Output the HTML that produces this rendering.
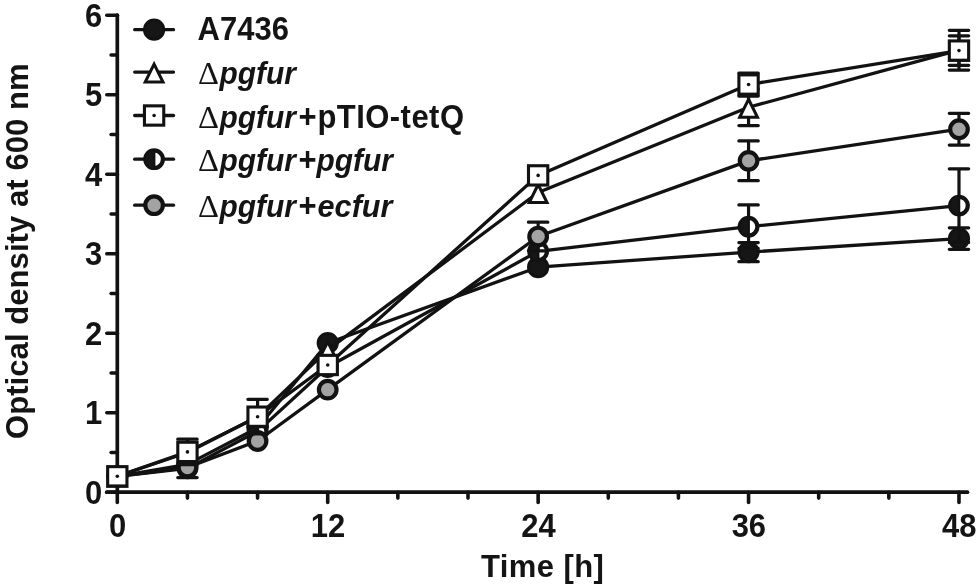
<!DOCTYPE html>
<html lang="en"><head><meta charset="utf-8"><title>Growth curves</title>
<style>html,body{margin:0;padding:0;background:#fff}svg{display:block}</style></head>
<body>
<svg width="980" height="588" viewBox="0 0 980 588">
<rect width="980" height="588" fill="#fff"/>
<g stroke="#121212" stroke-width="3.7" stroke-linecap="round" fill="none">
<path d="M117.3 15.2 V492.2"/>
<path d="M106.8 492.2 H967.5"/>
</g>
<g stroke="#121212" stroke-width="3.6" stroke-linecap="round" fill="none">
<path d="M106.8 492.2 H117.3"/>
<path d="M111.1 452.45 H117.3"/>
<path d="M106.8 412.7 H117.3"/>
<path d="M111.1 372.95 H117.3"/>
<path d="M106.8 333.2 H117.3"/>
<path d="M111.1 293.45 H117.3"/>
<path d="M106.8 253.7 H117.3"/>
<path d="M111.1 213.95 H117.3"/>
<path d="M106.8 174.2 H117.3"/>
<path d="M111.1 134.45 H117.3"/>
<path d="M106.8 94.7 H117.3"/>
<path d="M111.1 54.95 H117.3"/>
<path d="M106.8 15.2 H117.3"/>
<path d="M117.3 492.2 V502.5"/>
<path d="M187.44 492.2 V498.1"/>
<path d="M257.58 492.2 V498.1"/>
<path d="M327.72 492.2 V502.5"/>
<path d="M397.86 492.2 V498.1"/>
<path d="M468 492.2 V498.1"/>
<path d="M538.14 492.2 V502.5"/>
<path d="M608.28 492.2 V498.1"/>
<path d="M678.42 492.2 V498.1"/>
<path d="M748.56 492.2 V502.5"/>
<path d="M818.7 492.2 V498.1"/>
<path d="M888.84 492.2 V498.1"/>
<path d="M958.98 492.2 V502.5"/>
</g>
<g font-family="'Liberation Sans', Arial, sans-serif" font-weight="bold" font-size="31" fill="#141414">
<text transform="translate(102.3 503.8) scale(1 1.045)" text-anchor="end">0</text>
<text transform="translate(102.3 424.3) scale(1 1.045)" text-anchor="end">1</text>
<text transform="translate(102.3 344.8) scale(1 1.045)" text-anchor="end">2</text>
<text transform="translate(102.3 265.3) scale(1 1.045)" text-anchor="end">3</text>
<text transform="translate(102.3 185.8) scale(1 1.045)" text-anchor="end">4</text>
<text transform="translate(102.3 106.3) scale(1 1.045)" text-anchor="end">5</text>
<text transform="translate(102.3 26.8) scale(1 1.045)" text-anchor="end">6</text>
<text transform="translate(117.6 536.6) scale(1 1.045)" text-anchor="middle">0</text>
<text transform="translate(328.02 536.6) scale(1 1.045)" text-anchor="middle">12</text>
<text transform="translate(538.44 536.6) scale(1 1.045)" text-anchor="middle">24</text>
<text transform="translate(748.86 536.6) scale(1 1.045)" text-anchor="middle">36</text>
<text transform="translate(959.28 536.6) scale(1 1.045)" text-anchor="middle">48</text>
<text x="542.4" y="576.5" text-anchor="middle" textLength="123" lengthAdjust="spacing">Time [h]</text>
<text transform="translate(27.5 251.2) rotate(-90)" text-anchor="middle" textLength="375.7" lengthAdjust="spacing">Optical density at 600 nm</text>
</g>
<g id="s-black">
<path d="M117.3 476.3 L187.44 464.38 L257.58 427.8 L327.72 342.98 L538.14 267.21 L748.56 252.11 L958.98 238.59" fill="none" stroke="#121212" stroke-width="3.3" stroke-linejoin="round"/>
<path d="M748.56 242.57 V261.65 M738.86 242.57 H758.26 M738.86 261.65 H758.26" fill="none" stroke="#121212" stroke-width="3.2" stroke-linecap="round"/>
<path d="M958.98 227.86 V249.33 M949.28 227.86 H968.68 M949.28 249.33 H968.68" fill="none" stroke="#121212" stroke-width="3.2" stroke-linecap="round"/>
<circle cx="117.3" cy="476.3" r="9.6" fill="#161616" stroke="#121212" stroke-width="3"/>
<circle cx="187.44" cy="464.38" r="9.6" fill="#161616" stroke="#121212" stroke-width="3"/>
<circle cx="257.58" cy="427.8" r="9.6" fill="#161616" stroke="#121212" stroke-width="3"/>
<circle cx="327.72" cy="342.98" r="9.6" fill="#161616" stroke="#121212" stroke-width="3"/>
<circle cx="538.14" cy="267.21" r="9.6" fill="#161616" stroke="#121212" stroke-width="3"/>
<circle cx="748.56" cy="252.11" r="9.6" fill="#161616" stroke="#121212" stroke-width="3"/>
<circle cx="958.98" cy="238.59" r="9.6" fill="#161616" stroke="#121212" stroke-width="3"/>
</g>
<g id="s-half">
<path d="M117.3 476.3 L187.44 468.35 L257.58 431.38 L327.72 366.99 L538.14 251.31 L748.56 226.67 L958.98 205.6" fill="none" stroke="#121212" stroke-width="3.3" stroke-linejoin="round"/>
<path d="M748.56 204.89 V248.45 M738.86 204.89 H758.26 M738.86 248.45 H758.26" fill="none" stroke="#121212" stroke-width="3.2" stroke-linecap="round"/>
<path d="M958.98 168.79 V242.41 M949.28 168.79 H968.68 M949.28 242.41 H968.68" fill="none" stroke="#121212" stroke-width="3.2" stroke-linecap="round"/>
<g transform="translate(117.3 476.3)"><circle r="8.8" fill="#fff" stroke="#121212" stroke-width="4.2"/><path d="M0.9 -9 A9 9 0 0 0 0.9 9 Z" fill="#161616"/><path d="M0.2 -9 V9" stroke="#121212" stroke-width="2.2"/></g>
<g transform="translate(187.44 468.35)"><circle r="8.8" fill="#fff" stroke="#121212" stroke-width="4.2"/><path d="M0.9 -9 A9 9 0 0 0 0.9 9 Z" fill="#161616"/><path d="M0.2 -9 V9" stroke="#121212" stroke-width="2.2"/></g>
<g transform="translate(257.58 431.38)"><circle r="8.8" fill="#fff" stroke="#121212" stroke-width="4.2"/><path d="M0.9 -9 A9 9 0 0 0 0.9 9 Z" fill="#161616"/><path d="M0.2 -9 V9" stroke="#121212" stroke-width="2.2"/></g>
<g transform="translate(327.72 366.99)"><circle r="8.8" fill="#fff" stroke="#121212" stroke-width="4.2"/><path d="M0.9 -9 A9 9 0 0 0 0.9 9 Z" fill="#161616"/><path d="M0.2 -9 V9" stroke="#121212" stroke-width="2.2"/></g>
<g transform="translate(538.14 251.31)"><circle r="8.8" fill="#fff" stroke="#121212" stroke-width="4.2"/><path d="M0.9 -9 A9 9 0 0 0 0.9 9 Z" fill="#161616"/><path d="M0.2 -9 V9" stroke="#121212" stroke-width="2.2"/></g>
<g transform="translate(748.56 226.67)"><circle r="8.8" fill="#fff" stroke="#121212" stroke-width="4.2"/><path d="M0.9 -9 A9 9 0 0 0 0.9 9 Z" fill="#161616"/><path d="M0.2 -9 V9" stroke="#121212" stroke-width="2.2"/></g>
<g transform="translate(958.98 205.6)"><circle r="8.8" fill="#fff" stroke="#121212" stroke-width="4.2"/><path d="M0.9 -9 A9 9 0 0 0 0.9 9 Z" fill="#161616"/><path d="M0.2 -9 V9" stroke="#121212" stroke-width="2.2"/></g>
</g>
<g id="s-grey">
<path d="M117.3 476.3 L187.44 467.56 L257.58 441 L327.72 389.64 L538.14 236.53 L748.56 160.84 L958.98 129.2" fill="none" stroke="#121212" stroke-width="3.3" stroke-linejoin="round"/>
<path d="M187.44 457.54 V477.57 M177.74 457.54 H197.14 M177.74 477.57 H197.14" fill="none" stroke="#121212" stroke-width="3.2" stroke-linecap="round"/>
<path d="M538.14 222.22 V250.84 M528.44 222.22 H547.84 M528.44 250.84 H547.84" fill="none" stroke="#121212" stroke-width="3.2" stroke-linecap="round"/>
<path d="M748.56 140.97 V180.72 M738.86 140.97 H758.26 M738.86 180.72 H758.26" fill="none" stroke="#121212" stroke-width="3.2" stroke-linecap="round"/>
<path d="M958.98 113.3 V145.1 M949.28 113.3 H968.68 M949.28 145.1 H968.68" fill="none" stroke="#121212" stroke-width="3.2" stroke-linecap="round"/>
<circle cx="117.3" cy="476.3" r="8.8" fill="#a3a3a3" stroke="#121212" stroke-width="4.2"/>
<circle cx="187.44" cy="467.56" r="8.8" fill="#a3a3a3" stroke="#121212" stroke-width="4.2"/>
<circle cx="257.58" cy="441" r="8.8" fill="#a3a3a3" stroke="#121212" stroke-width="4.2"/>
<circle cx="327.72" cy="389.64" r="8.8" fill="#a3a3a3" stroke="#121212" stroke-width="4.2"/>
<circle cx="538.14" cy="236.53" r="8.8" fill="#a3a3a3" stroke="#121212" stroke-width="4.2"/>
<circle cx="748.56" cy="160.84" r="8.8" fill="#a3a3a3" stroke="#121212" stroke-width="4.2"/>
<circle cx="958.98" cy="129.2" r="8.8" fill="#a3a3a3" stroke="#121212" stroke-width="4.2"/>
</g>
<g id="s-tri">
<path d="M117.3 476.3 L187.44 452.45 L257.58 416.83 L327.72 349.89 L538.14 192.49 L748.56 107.26 L958.98 50.18" fill="none" stroke="#121212" stroke-width="3.3" stroke-linejoin="round"/>
<path d="M748.56 88.98 V125.55 M738.86 88.98 H758.26 M738.86 125.55 H758.26" fill="none" stroke="#121212" stroke-width="3.2" stroke-linecap="round"/>
<path d="M958.98 30.31 V70.06 M949.28 30.31 H968.68 M949.28 70.06 H968.68" fill="none" stroke="#121212" stroke-width="3.2" stroke-linecap="round"/>
<g transform="translate(117.3 476.3)"><path d="M0 -8 L8.9 10 L-8.9 10 Z" fill="#fff" stroke="#121212" stroke-width="3" stroke-linejoin="miter" stroke-miterlimit="10"/></g>
<g transform="translate(187.44 452.45)"><path d="M0 -8 L8.9 10 L-8.9 10 Z" fill="#fff" stroke="#121212" stroke-width="3" stroke-linejoin="miter" stroke-miterlimit="10"/></g>
<g transform="translate(257.58 416.83)"><path d="M0 -8 L8.9 10 L-8.9 10 Z" fill="#fff" stroke="#121212" stroke-width="3" stroke-linejoin="miter" stroke-miterlimit="10"/></g>
<g transform="translate(327.72 349.89)"><path d="M0 -8 L8.9 10 L-8.9 10 Z" fill="#fff" stroke="#121212" stroke-width="3" stroke-linejoin="miter" stroke-miterlimit="10"/></g>
<g transform="translate(538.14 192.49)"><path d="M0 -8 L8.9 10 L-8.9 10 Z" fill="#fff" stroke="#121212" stroke-width="3" stroke-linejoin="miter" stroke-miterlimit="10"/></g>
<g transform="translate(748.56 107.26)"><path d="M0 -8 L8.9 10 L-8.9 10 Z" fill="#fff" stroke="#121212" stroke-width="3" stroke-linejoin="miter" stroke-miterlimit="10"/></g>
<g transform="translate(958.98 50.18)"><path d="M0 -8 L8.9 10 L-8.9 10 Z" fill="#fff" stroke="#121212" stroke-width="3" stroke-linejoin="miter" stroke-miterlimit="10"/></g>
</g>
<g id="s-sq">
<path d="M117.3 476.3 L187.44 451.89 L257.58 416.68 L327.72 365 L538.14 175.39 L748.56 84.52 L958.98 50.58" fill="none" stroke="#121212" stroke-width="3.3" stroke-linejoin="round"/>
<path d="M187.44 439.17 V464.61 M177.74 439.17 H197.14 M177.74 464.61 H197.14" fill="none" stroke="#121212" stroke-width="3.2" stroke-linecap="round"/>
<path d="M257.58 399.34 V434.01 M247.88 399.34 H267.28 M247.88 434.01 H267.28" fill="none" stroke="#121212" stroke-width="3.2" stroke-linecap="round"/>
<path d="M748.56 73 V96.05 M738.86 73 H758.26 M738.86 96.05 H758.26" fill="none" stroke="#121212" stroke-width="3.2" stroke-linecap="round"/>
<path d="M958.98 35.87 V65.28 M949.28 35.87 H968.68 M949.28 65.28 H968.68" fill="none" stroke="#121212" stroke-width="3.2" stroke-linecap="round"/>
<g transform="translate(117.3 476.3)"><rect x="-9.65" y="-9.65" width="19.3" height="19.3" fill="#fff" stroke="#121212" stroke-width="3.1"/><circle r="1.8" fill="#121212"/></g>
<g transform="translate(187.44 451.89)"><rect x="-9.65" y="-9.65" width="19.3" height="19.3" fill="#fff" stroke="#121212" stroke-width="3.1"/><circle r="1.8" fill="#121212"/></g>
<g transform="translate(257.58 416.68)"><rect x="-9.65" y="-9.65" width="19.3" height="19.3" fill="#fff" stroke="#121212" stroke-width="3.1"/><circle r="1.8" fill="#121212"/></g>
<g transform="translate(327.72 365)"><rect x="-9.65" y="-9.65" width="19.3" height="19.3" fill="#fff" stroke="#121212" stroke-width="3.1"/><circle r="1.8" fill="#121212"/></g>
<g transform="translate(538.14 175.39)"><rect x="-9.65" y="-9.65" width="19.3" height="19.3" fill="#fff" stroke="#121212" stroke-width="3.1"/><circle r="1.8" fill="#121212"/></g>
<g transform="translate(748.56 84.52)"><rect x="-9.65" y="-9.65" width="19.3" height="19.3" fill="#fff" stroke="#121212" stroke-width="3.1"/><circle r="1.8" fill="#121212"/></g>
<g transform="translate(958.98 50.58)"><rect x="-9.65" y="-9.65" width="19.3" height="19.3" fill="#fff" stroke="#121212" stroke-width="3.1"/><circle r="1.8" fill="#121212"/></g>
</g>
<g id="legend">
<path d="M134.7 29.7 H173.5" stroke="#121212" stroke-width="3.3" stroke-linecap="round" fill="none"/>
<circle cx="154.1" cy="29.7" r="9.6" fill="#161616" stroke="#121212" stroke-width="3"/>
<path d="M134.7 72.1 H173.5" stroke="#121212" stroke-width="3.3" stroke-linecap="round" fill="none"/>
<g transform="translate(154.1 72.1)"><path d="M0 -8 L8.9 10 L-8.9 10 Z" fill="#fff" stroke="#121212" stroke-width="3" stroke-linejoin="miter" stroke-miterlimit="10"/></g>
<path d="M134.7 115.5 H173.5" stroke="#121212" stroke-width="3.3" stroke-linecap="round" fill="none"/>
<g transform="translate(154.1 115.5)"><rect x="-9.65" y="-9.65" width="19.3" height="19.3" fill="#fff" stroke="#121212" stroke-width="3.1"/><circle r="1.8" fill="#121212"/></g>
<path d="M134.7 159.2 H173.5" stroke="#121212" stroke-width="3.3" stroke-linecap="round" fill="none"/>
<g transform="translate(154.1 159.2)"><circle r="8.8" fill="#fff" stroke="#121212" stroke-width="4.2"/><path d="M0.9 -9 A9 9 0 0 0 0.9 9 Z" fill="#161616"/><path d="M0.2 -9 V9" stroke="#121212" stroke-width="2.2"/></g>
<path d="M134.7 205.2 H173.5" stroke="#121212" stroke-width="3.3" stroke-linecap="round" fill="none"/>
<circle cx="154.1" cy="205.2" r="8.8" fill="#a3a3a3" stroke="#121212" stroke-width="4.2"/>
<g font-family="'Liberation Sans', Arial, sans-serif" font-size="31" font-weight="bold" fill="#141414">
<text transform="translate(197.6 39.9) scale(1 1.045)" >A7436</text>
<text x="198" y="84" font-family="'Liberation Serif', 'DejaVu Serif', serif" font-weight="normal" font-size="32.6">Δ</text>
<text transform="translate(219.4 84) scale(0.965 1)" font-style="italic">pgfur</text>
<text x="198" y="127.5" font-family="'Liberation Serif', 'DejaVu Serif', serif" font-weight="normal" font-size="32.6">Δ</text>
<text transform="translate(219.4 127.5) scale(0.965 1)" font-style="italic">pgfur</text>
<text transform="translate(298.6 127.5) scale(1 1.045)" >+</text>
<text x="198" y="170.8" font-family="'Liberation Serif', 'DejaVu Serif', serif" font-weight="normal" font-size="32.6">Δ</text>
<text transform="translate(219.4 170.8) scale(0.965 1)" font-style="italic">pgfur</text>
<text transform="translate(298.6 170.8) scale(1 1.045)" >+</text>
<text x="198" y="216.7" font-family="'Liberation Serif', 'DejaVu Serif', serif" font-weight="normal" font-size="32.6">Δ</text>
<text transform="translate(219.4 216.7) scale(0.965 1)" font-style="italic">pgfur</text>
<text transform="translate(298.6 216.7) scale(1 1.045)" >+</text>
<text transform="translate(317.4 127.5) scale(1 1.045)" textLength="146.6" lengthAdjust="spacing">pTIO-tetQ</text>
<text transform="translate(316.4 170.8) scale(0.965 1)" font-style="italic">pgfur</text>
<text transform="translate(317.6 216.7) scale(0.988 1)" font-style="italic">ecfur</text>
</g></g>
</svg>
</body></html>
